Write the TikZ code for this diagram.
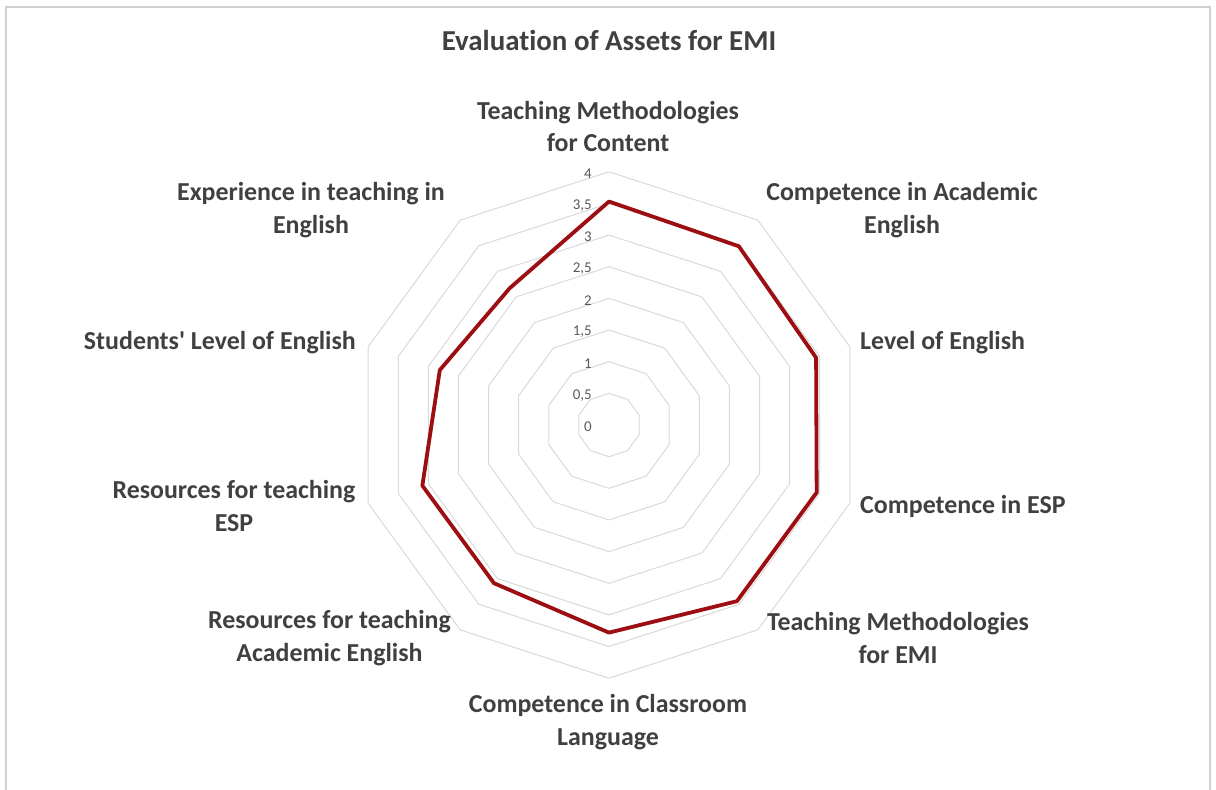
\documentclass[tikz,border=0pt]{standalone}
\usepackage{fontspec}
\setmainfont{Carlito}[Ligatures=NoCommon]
\usepackage{tikz}
\definecolor{gridgray}{HTML}{D9D9D9}
\definecolor{framegray}{HTML}{D0D0D0}
\definecolor{labelgray}{HTML}{404040}
\definecolor{tickgray}{HTML}{595959}
\definecolor{datared}{HTML}{9C0E12}

\begin{document}
\begin{tikzpicture}[x=1bp, y=1bp,
    axislabel/.style={font=\fontsize{26}{33}\selectfont\bfseries, text=labelgray, align=center, inner sep=0pt},
    ticklabel/.style={font=\fontsize{15}{17}\selectfont, text=tickgray, anchor=east, inner sep=0pt},
    ring/.style={draw=gridgray, line width=1bp},
    series/.style={draw=datared, line width=3.8bp, line join=round},
]
\useasboundingbox (-609,-365) rectangle (607,425);
\draw[framegray, line width=1.2bp] (-603,-380) -- (-603,418) -- (601,418) -- (601,-380);

% grid rings, 0.5 to 4
\foreach \v in {0.5,1,...,4}
  \draw[ring] (90:{\v*63.3}) \foreach \a in {1,...,9} {-- ({90-36*\a}:{\v*63.3})} -- cycle;

% scale
\foreach \v/\t in {0/0, 0.5/{0,5}, 1/1, 1.5/{1,5}, 2/2, 2.5/{2,5}, 3/3, 3.5/{3,5}, 4/4}
  \node[ticklabel] at (-17,{\v*63.3-2}) {\t};

% series
\foreach \v [count=\i] in {3.53,3.49,3.44,3.45,3.44,3.28,3.09,3.10,2.81,2.67}
  \coordinate (p\i) at ({126-36*\i}:{\v*63.3});
\draw[series] (p1) -- (p2) -- (p3) -- (p4) -- (p5) -- (p6) -- (p7) -- (p8) -- (p9) -- (p10) -- cycle;

% title and axis names
\node[font=\fontsize{29}{35}\selectfont\bfseries, text=labelgray] (title) at (0,385) {Evaluation of Assets for EMI};

\node[axislabel] (content) at (-1,298.5) {Teaching Methodologies\\for Content};
\node[axislabel] (academic) at (293,214.5) {Competence in Academic\\English};
\node[axislabel, anchor=west] (level) at (251,82) {Level of English};
\node[axislabel, anchor=west] (esp) at (251,-81) {Competence in ESP};
\node[axislabel] (emi) at (289,-213) {Teaching Methodologies\\for EMI};
\node[axislabel] (classroom) at (-1,-297.5) {Competence in Classroom\\Language};
\node[axislabel] (resacad) at (-279.5,-213) {Resources for teaching\\Academic English};
\node[axislabel] (resesp) at (-375,-81) {Resources for teaching\\ESP};
\node[axislabel, anchor=east] (students) at (-253,82) {Students\textquotesingle\ Level of English};
\node[axislabel] (experience) at (-298,214.5) {Experience in teaching in\\English};

\end{tikzpicture}
\end{document}
